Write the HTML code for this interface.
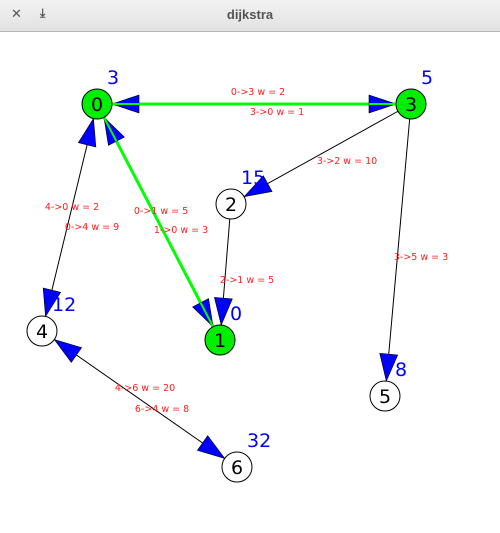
<!DOCTYPE html>
<html><head><meta charset="utf-8"><style>
body{margin:0;width:500px;height:533px;overflow:hidden;background:#fff;font-family:"Liberation Sans","DejaVu Sans",sans-serif}
#bar{position:absolute;left:0;top:0;width:500px;height:31px;background:linear-gradient(#f2f2f2,#e2e2e2);border-bottom:1px solid #b8b8b8}
#title{position:absolute;left:0;right:0;top:7px;text-align:center;font-weight:bold;font-size:13px;color:#555}
.btn{position:absolute;top:6px;font-size:13px;color:#555;font-weight:bold}
svg{position:absolute;left:0;top:0;font-family:"DejaVu Sans",sans-serif}
</style></head><body>
<div id="bar">
<span class="btn" style="left:11px">✕</span>
<span class="btn" style="left:40px;font-size:12px">⤓</span>
<div id="title">dijkstra</div>
</div>
<svg id="g" width="500" height="533"></svg>
<script>
const nodeIds=[0,1,2,3,4,5,6];
const nodeX=[97,220,231,411,42,385,237];
const nodeY=[104,340,204,104,331,396,467];
const dists=[3,0,15,5,12,8,32];
const onPath=[true,true,false,true,false,false,false];
const edgeFrom=[0,3,0,1,3,2,4,0,3,4,6];
const edgeTo=[3,0,1,0,2,1,0,4,5,6,4];
const weights=[2,1,5,3,10,5,2,9,3,20,8];
const greenEdges=[[0,3],[0,1]];
const labelPos=[[258,95],[277,115],[161,214],[181,233],[347,164],[247,283],[72,210],[92,230],[421,260],[145,391],[162,412]];
const svg=document.getElementById('g');const NS='http://www.w3.org/2000/svg';
function mk(t,a){const e=document.createElementNS(NS,t);for(const k in a)e.setAttribute(k,a[k]);svg.appendChild(e);return e;}
const R=15;
const isGreen=(a,b)=>greenEdges.some(p=>(p[0]==a&&p[1]==b)||(p[0]==b&&p[1]==a));
const drawn={};
edgeFrom.forEach((f,i)=>{const t=edgeTo[i];const k=Math.min(f,t)+'-'+Math.max(f,t);if(drawn[k])return;drawn[k]=1;
const g=isGreen(f,t);
const l=mk('line',{x1:nodeX[f],y1:nodeY[f],x2:nodeX[t],y2:nodeY[t],stroke:g?'#00ff00':'#000','stroke-width':g?3:1});

});
edgeFrom.forEach((f,i)=>{const t=edgeTo[i];const dx=nodeX[t]-nodeX[f],dy=nodeY[t]-nodeY[f];const d=Math.hypot(dx,dy);const ux=dx/d,uy=dy/d;
const tx=nodeX[t]-ux*R,ty=nodeY[t]-uy*R;const L=27,H=9;const bx=tx-ux*L,by=ty-uy*L;
const p=mk('polygon',{points:`${tx},${ty} ${bx-uy*H},${by+ux*H} ${bx+uy*H},${by-ux*H}`,fill:'#0000ff',stroke:'#000','stroke-width':0.6});


if(isGreen(f,t)){const gl=mk('line',{x1:tx,y1:ty,x2:bx,y2:by,stroke:'#00ff00','stroke-width':2});}
const tx2=mk('text',{x:labelPos[i][0],y:labelPos[i][1],fill:'#ff2020','font-size':9.5,'text-anchor':'middle'});
tx2.textContent=f+'->'+t+' w = '+weights[i];

});
nodeIds.forEach((n,i)=>{const c=mk('circle',{cx:nodeX[i],cy:nodeY[i],r:R,fill:onPath[i]?'#00ee00':'#fff',stroke:'#000','stroke-width':1});


const t=mk('text',{x:nodeX[i],y:nodeY[i]+7,'text-anchor':'middle','font-size':19,fill:'#000'});t.textContent=n;


const d=mk('text',{x:nodeX[i]+10,y:nodeY[i]-20,'font-size':19,fill:'#0000ff'});d.textContent=dists[i];

});
</script>
</body></html>
